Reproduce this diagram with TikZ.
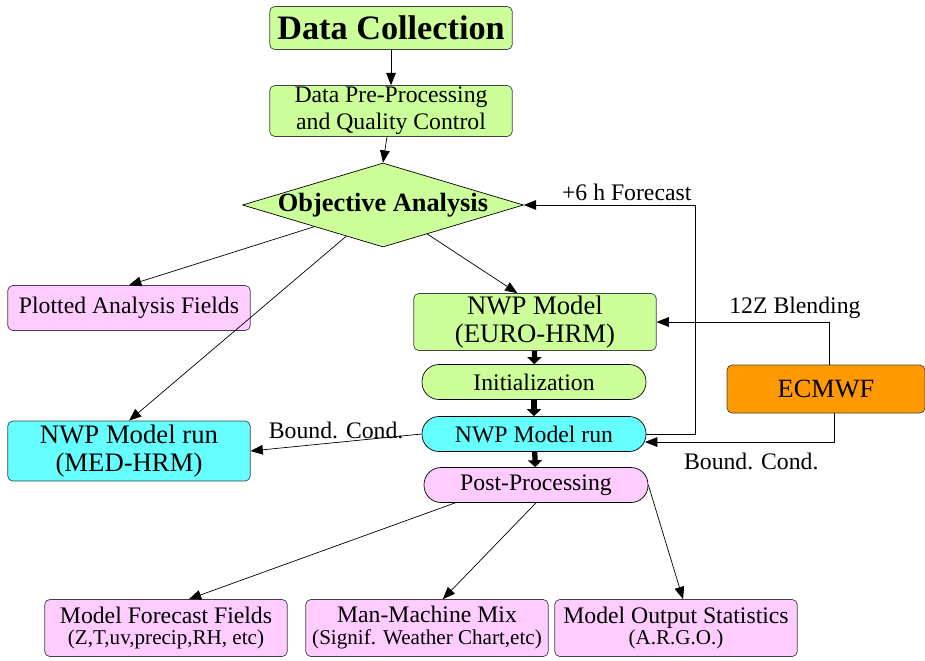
\documentclass[tikz,border=0pt]{standalone}
\usepackage{fontspec}
\setmainfont{Liberation Serif}
\usetikzlibrary{arrows.meta,shapes.geometric}
\definecolor{boxgreen}{RGB}{204,255,153}
\definecolor{boxpink}{RGB}{255,204,255}
\definecolor{boxcyan}{RGB}{102,255,255}
\definecolor{boxorange}{RGB}{255,153,0}
\newcommand{\fsz}[1]{\fontsize{#1}{#1}\selectfont}
\begin{document}
\begin{tikzpicture}[x=0.02cm, y=-0.02cm,
  box/.style={draw=black!75, rounded corners=0.1cm, align=center, inner sep=0pt,
    minimum width=4.85cm, font=\fontsize{13.5}{15.5}\selectfont},
  pill/.style={draw=black, rounded corners=0.34cm, inner sep=0pt,
    minimum width=4.48cm, minimum height=0.7cm, font=\fontsize{13.5}{15}\selectfont},
  arr/.style={-{Triangle[length=7pt,width=5.5pt]}},
  fat/.style={line width=3pt, -{Triangle[length=4pt,width=8pt]}},
  lbl/.style={font=\fontsize{13.5}{15}\selectfont, inner sep=2pt}]
\useasboundingbox (0,0) rectangle (925,660);
% main chain
\node[box, fill=boxgreen, minimum height=0.86cm, font=\fontsize{19.5}{20}\selectfont\bfseries] (dc) at (391,28) {Data Collection};
\node[box, fill=boxgreen, minimum height=1.02cm] (pp) at (391,111) {Data Pre-Processing\\and Quality Control};
\node[diamond, draw=black, fill=boxgreen, inner sep=0pt, minimum width=5.62cm, minimum height=1.68cm,
  font=\fontsize{15}{15}\selectfont\bfseries] (oa) at (383,205) {\makebox[0pt]{Objective Analysis}};
\node[box, fill=boxpink, minimum height=0.9cm] (plot) at (129,308) {Plotted Analysis Fields};
\node[box, fill=boxgreen, minimum height=1.14cm, font=\fontsize{15.2}{16}\selectfont] (euro) at (535,322) {NWP Model\\(EURO-HRM)};
\node[pill, fill=boxgreen] (init) at (534,382) {Initialization};
\node[pill, fill=boxcyan] (run) at (534,434) {NWP Model run};
\node[pill, fill=boxpink] (post) at (536,485) {Post-Processing};
\node[box, fill=boxorange, minimum width=3.96cm, minimum height=0.96cm, font=\fontsize{15}{16}\selectfont] (ecmwf) at (826,389) {ECMWF};
\node[box, fill=boxcyan, minimum height=1.2cm, font=\fontsize{15.2}{16}\selectfont] (med) at (129,451) {NWP Model run\\(MED-HRM)};
% products
\node[box, fill=boxpink, minimum height=1.14cm] (mff) at (166,628) {Model Forecast Fields\\[-3pt]{\fsz{12}(Z,T,uv,precip,RH, etc)}};
\node[box, fill=boxpink, minimum height=1.14cm] (mmm) at (427,628) {Man-Machine Mix\\[-3pt]{\fsz{12}(Signif. Weather Chart,etc)}};
\node[box, fill=boxpink, minimum height=1.14cm] (mos) at (676,628) {Model Output Statistics\\[-3pt]{\fsz{12}(A.R.G.O.)}};
\coordinate (bcin) at (645,442);
% connectors
\draw[arr] (dc) -- (pp);
\draw[arr] (pp) -- (oa.north);
\draw[arr] (oa) -- (plot.north);
\draw[arr] (oa) -- (med.north);
\draw[arr] (oa) -- ([xshift=-10pt]euro.north);
\draw[fat] (euro) -- (init);
\draw[fat] (init) -- (run);
\draw[fat] (run) -- (post);
\draw[arr] (run.west) -- node[lbl, above] {Bound. Cond.} (med.east);
\draw[arr] (run.east) -- ++(49,0) |- node[lbl, pos=0.7, above] {+6 h Forecast} (oa.east);
\draw[arr] ([xshift=2pt]ecmwf.north) |- node[lbl, pos=0.6, above] {12Z Blending} (euro.east);
\draw[arr] ([xshift=5pt]ecmwf.south) |- node[lbl, pos=0.72, below=4pt] {Bound. Cond.} (bcin);
\draw[arr] ([xshift=-46pt]post.south) -- ([xshift=13pt]mff.north);
\draw[arr] (post.south) -- ([xshift=9pt]mmm.north);
\draw[arr] (post.east) -- ([xshift=4pt]mos.north);
\end{tikzpicture}
\end{document}
